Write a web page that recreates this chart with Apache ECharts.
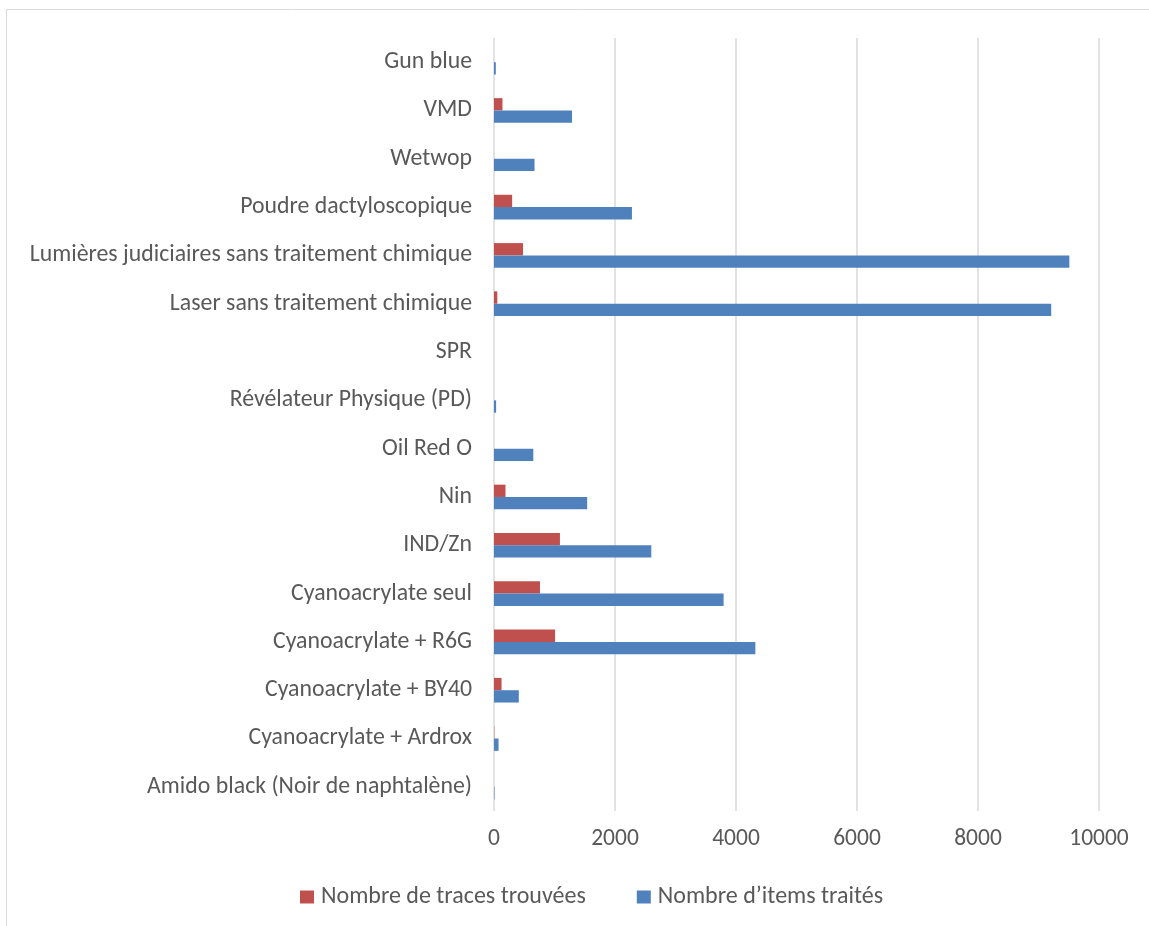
<!DOCTYPE html>
<html>
<head>
<meta charset="utf-8">
<style>
  html, body { margin: 0; padding: 0; background: #ffffff; }
  #chart { width: 1149px; height: 926px; }
</style>
<script src="https://cdn.jsdelivr.net/npm/echarts@6/dist/echarts.min.js"></script>
</head>
<body>
<div id="chart"></div>
<script>
// Techniques, listed from top to bottom
const categories = [
  'Gun blue',
  'VMD',
  'Wetwop',
  'Poudre dactyloscopique',
  'Lumières judiciaires sans traitement chimique',
  'Laser sans traitement chimique',
  'SPR',
  'Révélateur Physique (PD)',
  'Oil Red O',
  'Nin',
  'IND/Zn',
  'Cyanoacrylate seul',
  'Cyanoacrylate + R6G',
  'Cyanoacrylate + BY40',
  'Cyanoacrylate + Ardrox',
  'Amido black (Noir de naphtalène)'
];

const tracesTrouvees = [0, 140, 0, 300, 480, 55, 0, 0, 0, 190, 1090, 760, 1010, 125, 5, 0];
const itemsTraites   = [30, 1290, 670, 2280, 9510, 9210, 0, 35, 650, 1540, 2600, 3795, 4320, 410, 75, 8];

const xTicks = [0, 2000, 4000, 6000, 8000, 10000];

const seriesNames = ['Nombre de traces trouvées', 'Nombre d\u2019items traités'];
const colors = ['#C0504D', '#4F81BD'];

const font = 'Carlito, Calibri, Lato, sans-serif';
const textColor = '#595959';

const chart = echarts.init(document.getElementById('chart'), null, { renderer: 'canvas' });

chart.setOption({
  animation: false,
  backgroundColor: '#ffffff',
  graphic: [{
    type: 'rect',
    shape: { x: 6.5, y: 9.5, width: 1300, height: 1100 },
    style: { fill: 'none', stroke: '#d9d9d9', lineWidth: 1 },
    silent: true,
    z: -1
  }],
  grid: { left: 494, right: 50, top: 38, bottom: 115, containLabel: false },
  legend: {
    left: 295,
    top: 880,
    itemWidth: 14,
    itemHeight: 13,
    itemGap: 51,
    icon: 'rect',
    data: seriesNames,
    textStyle: { fontFamily: font, fontSize: 24, color: textColor, padding: [0, 0, 0, 2] }
  },
  xAxis: {
    type: 'value',
    min: xTicks[0],
    max: xTicks[xTicks.length - 1],
    interval: xTicks[1] - xTicks[0],
    axisLine: { show: false },
    axisTick: { show: false },
    axisLabel: {
      fontFamily: font, fontSize: 23.5, color: textColor, margin: 16,
      formatter: (v) => String(v)
    },
    splitLine: { show: true, lineStyle: { color: '#d9d9d9', width: 1.5 } }
  },
  yAxis: {
    type: 'category',
    data: categories,
    inverse: true,
    axisLine: { show: false },
    axisTick: { show: false },
    axisLabel: {
      fontFamily: font, fontSize: 23.8, color: textColor, margin: 22,
      padding: [4, 0, 0, 0]
    },
    splitLine: { show: false }
  },
  series: [
    {
      name: seriesNames[0],
      type: 'bar',
      data: tracesTrouvees,
      itemStyle: { color: colors[0] },
      barGap: '0%',
      barCategoryGap: '49%'
    },
    {
      name: seriesNames[1],
      type: 'bar',
      data: itemsTraites,
      itemStyle: { color: colors[1] },
      barGap: '0%',
      barCategoryGap: '49%'
    }
  ]
});
</script>
</body>
</html>
